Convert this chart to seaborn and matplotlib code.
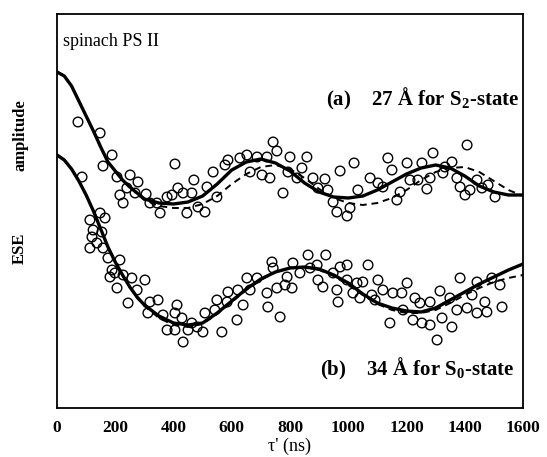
#!/usr/bin/env python3
"""ESE amplitude vs tau' for spinach PS II (two traces, fits)."""

import matplotlib

matplotlib.use("Agg")

import matplotlib.pyplot as plt
import seaborn as sns
from matplotlib.ticker import MultipleLocator

# --- trace (a): 27 A for S2-state -------------------------------------------
TAU_A = [72, 148, 189, 158, 206, 251, 278, 240, 216, 227, 268, 306, 319, 354,
         343, 378, 405, 415, 395, 433, 446, 470, 463, 484, 508, 515, 536, 549,
         577, 587, 628, 652, 687, 721, 663, 704, 731, 742, 755, 800, 858, 841,
         793, 824, 879, 920, 896, 930, 776, 972, 1020, 948, 961, 1006, 996,
         1033, 1075, 1102, 1119, 1136, 1150, 1167, 1178, 1202, 1212, 1239,
         1253, 1270, 1281, 1291, 1325, 1356, 1373, 1384, 1401, 1408, 1442,
         1459, 1480, 1504, 1332, 1418]
AMP_A = [286, 275, 253, 242, 231, 233, 226, 220, 213, 205, 215, 214, 205, 195,
         205, 211, 244, 220, 213, 215, 195, 228, 215, 201, 196, 221, 236, 211,
         243, 248, 250, 253, 251, 251, 236, 233, 230, 266, 257, 251, 251, 240,
         236, 230, 230, 229, 220, 218, 215, 237, 245, 206, 196, 200, 192,
         218, 230, 225, 221, 250, 238, 208, 216, 245, 228, 228,
         245, 219, 230, 255, 235, 246, 230, 221, 213, 263, 228,
         220, 223, 211, 241, 218]

# --- trace (b): 34 A for S0-state -------------------------------------------
TAU_B = [86, 113, 148, 165, 124, 154, 120, 137, 113, 158, 175, 216, 189, 199,
         182, 227, 257, 302, 206, 275, 244, 319, 347, 312, 364, 405, 412, 429,
         378, 405, 450, 481, 501, 508, 433, 463, 566, 542, 549, 584, 587, 621,
         618, 639, 663, 652, 687, 724, 766, 721, 755, 738, 742, 783, 807, 790,
         810, 834, 862, 869, 893, 923, 896, 913, 948, 972, 996, 961, 965, 996,
         1016, 1030, 1068, 1102, 1050, 1119, 1081, 1040, 1153, 1202, 1184,
         1092, 1229, 1246, 1281, 1315, 1188, 1143, 1222, 1253, 1281, 1322,
         1356, 1305, 1373, 1384, 1442, 1493, 1521, 1425, 1408, 1442, 1476,
         1469, 1528, 1349]
AMP_B = [231, 188, 195, 190, 178, 176, 171, 165, 160, 160, 150, 148, 138, 135,
         131, 133, 130, 128, 120, 118, 105, 106, 108, 95, 93, 95, 103, 90,
         78, 78, 78, 81, 76, 95, 66, 85, 76, 98, 108, 106, 116, 118,
         88, 103, 118, 130, 130, 101, 91, 115, 120, 146, 140, 123, 120, 131,
         145, 135, 153, 140, 143, 153, 128, 121, 135, 141, 143, 118, 106, 128,
         115, 125, 143, 128, 126, 118, 113, 110, 115, 125, 115,
         108, 110, 105, 106, 117, 98, 85, 88, 85, 83, 90,
         81, 68, 98, 130, 126, 130, 123, 113, 100, 95, 96,
         106, 101, 110]

# --- fitted curves ---------------------------------------------------------
TAU_FIT = [0, 25, 50, 75, 100, 125, 150, 175, 200, 225, 250, 275, 300,
           350, 400, 450, 500, 550, 600, 650, 700, 750, 800, 850, 900, 950,
           1000, 1050, 1100, 1150, 1200, 1250, 1300, 1350, 1400, 1450, 1500,
           1550, 1600]
FIT_A_SOLID = [336, 332, 322, 307, 292, 277, 261, 246, 237, 228, 221, 215, 209,
               205, 204, 206, 212, 224, 238, 246, 249, 245, 237, 225, 216, 211,
               210, 212, 218, 226, 234, 240, 243, 240, 232, 222, 216,
               213, 213]
FIT_A_DASHED = [336, 332, 322, 307, 292, 277, 261, 246, 237, 228, 221, 214, 208,
                202, 200, 200, 204, 212, 224, 234, 241, 243, 239, 230, 219, 210,
                205, 203, 205, 210, 218, 228, 236, 240, 241, 236, 227,
                218, 212]
FIT_B_SOLID = [253, 248, 239, 227, 213, 197, 179, 161, 146, 133, 121, 111, 103,
               92, 85, 83, 85, 95, 107, 119, 129, 136, 140, 141, 139, 133,
               125, 114, 105, 100, 97, 96, 100, 108, 116, 124, 131,
               138, 144]
FIT_B_DASHED = [253, 248, 239, 227, 213, 197, 179, 161, 146, 133, 121, 110, 102,
                90, 83, 81, 84, 94, 106, 118, 128, 136, 140, 141, 138, 132,
                123, 113, 104, 98, 95, 95, 98, 105, 113, 120, 126,
                130, 133]

SERIF = ["Liberation Serif", "DejaVu Serif"]


def main() -> None:
    sns.set_style("white")
    plt.rcParams["font.family"] = SERIF
    plt.rcParams["text.color"] = "black"
    plt.rcParams["axes.labelcolor"] = "black"
    plt.rcParams["mathtext.fontset"] = "custom"
    plt.rcParams["mathtext.rm"] = "Liberation Serif"
    plt.rcParams["mathtext.bf"] = "Liberation Serif:bold"

    fig = plt.figure(figsize=(5.47, 4.57), dpi=100)
    ax = fig.add_axes([57 / 547, 49 / 457, 466 / 547, 394 / 457])

    for tau, amp in [(TAU_A, AMP_A), (TAU_B, AMP_B)]:
        sns.scatterplot(x=tau, y=amp, ax=ax, marker="o", s=48,
                        facecolor="none", edgecolor="black", linewidth=1.0,
                        legend=False, zorder=2)

    for fit in (FIT_A_DASHED, FIT_B_DASHED):
        sns.lineplot(x=TAU_FIT, y=fit, ax=ax, color="black", lw=1.4,
                     linestyle=(0, (3.5, 2.5)), zorder=3)
    for fit in (FIT_A_SOLID, FIT_B_SOLID):
        sns.lineplot(x=TAU_FIT, y=fit, ax=ax, color="black", lw=2.4, zorder=4)

    ax.set_xlim(0, 1600)
    ax.set_ylim(0, 394)
    ax.xaxis.set_major_locator(MultipleLocator(200))
    ax.xaxis.set_minor_locator(MultipleLocator(100))
    ax.set_yticks([])
    ax.tick_params(axis="x", which="major", direction="out", length=5,
                   width=1.2, pad=4, labelsize=12.5, colors="black")
    ax.tick_params(axis="x", which="minor", direction="out", length=3,
                   width=1.0, colors="black")
    for label in ax.get_xticklabels():
        label.set_fontweight("bold")
    for spine in ax.spines.values():
        spine.set_color("black")
        spine.set_linewidth(1.3)

    ax.set_xlabel("τ' (ns)", fontsize=13, color="black", labelpad=1)
    fig.text(0.037, 0.705, "amplitude", rotation=90, ha="center",
             va="center", fontsize=12, fontweight="bold")
    fig.text(0.037, 0.457, "ESE", rotation=90, ha="center",
             va="center", fontsize=12, fontweight="bold")

    ax.text(0.013, 0.93, "spinach PS II", transform=ax.transAxes,
            fontsize=13, ha="left", va="center")
    ax.text(0.578, 0.785, r"(a)    27 Å for S$_\mathbf{2}$-state",
            transform=ax.transAxes, fontsize=15, fontweight="bold",
            ha="left", va="center")
    ax.text(0.565, 0.10, r"(b)    34 Å for S$_\mathbf{0}$-state",
            transform=ax.transAxes, fontsize=15, fontweight="bold",
            ha="left", va="center")

    fig.savefig("out.png", dpi=100)
    plt.close(fig)


if __name__ == "__main__":
    main()
